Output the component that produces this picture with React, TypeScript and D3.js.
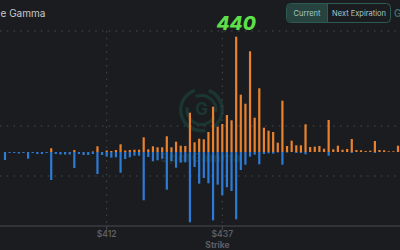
import React from "react";
import * as d3 from "d3";

const strikes = [
  390, 391, 392, 393, 394, 395, 396, 397, 398, 399,
  400, 401, 402, 403, 404, 405, 406, 407, 408, 409,
  410, 411, 412, 413, 414, 415, 416, 417, 418, 419,
  420, 421, 422, 423, 424, 425, 426, 427, 428, 429,
  430, 431, 432, 433, 434, 435, 436, 437, 438, 439,
  440, 441, 442, 443, 444, 445, 446, 447, 448, 449,
  450, 451, 452, 453, 454, 455, 456, 457, 458, 459,
  460, 461, 462, 463, 464, 465, 466, 467, 468, 469,
  470, 471, 472, 473, 474, 475,
];

const callGamma = [
  0, 0, 0, 0, 0, 0, 0, 0, 0, 0,
  3.7, 0, 0, 0, 0, 2, 0, 0, 0, 0.5,
  5.7, 0, 1.5, 1, 2, 7.7, 1.5, 2, 2.3, 2.3,
  14.7, 2.7, 5.7, 4.7, 4.7, 15.7, 4.7, 10.3, 6.3, 6,
  39.3, 9.7, 13.3, 12.7, 20, 45.3, 25.3, 28, 37, 31.7,
  115.3, 57.3, 48.3, 100.7, 34.3, 63.7, 24.3, 21.3, 20, 9.3,
  51.3, 6, 11.3, 6.7, 6.7, 27.7, 5, 5.3, 6, 3.3,
  32, 2.7, 6.3, 2.3, 3, 13, 2, 1.7, 1, 1.3,
  11, 2, 1.7, 0.7, 0.7, 6.3,
];

const putGamma = [
  -8, -1, -1, -1.5, -1, -6.7, -1, -2, -2, -1,
  -28, -2, -2.5, -2.5, -2.5, -16, -2, -3, -3, -2,
  -22, -3, -4.7, -5.7, -5.3, -20.7, -7, -5.3, -3.7, -3.7,
  -48.3, -5, -9.3, -8.3, -6.7, -37.7, -9, -15.7, -10.7, -10.3,
  -70.3, -15, -31.7, -26, -31.3, -68.3, -32.7, -43.3, -35.3, -39,
  -67.3, -18, -12.7, -4.7, -2.7, -12.3, -2, -1.3, -1.7, -0.5,
  -12.7, -0.5, 0, -1, -1, -2.3, 0, 0, 0, 0,
  -3.7, 0, 0, 0, 0, -1, 0, 0, 0, 0,
  -1, 0, 0, 0, 0, 0,
];

const xTickValues = [412, 437];
const yGridValues = [121, 26, -24];
const highlightStrike = 440;
const titleText = "e Gamma";
const buttonLabels = ["Current", "Next Expiration"];

const W = 400;
const H = 250;

export default function App() {
  const x = d3.scaleLinear().domain([412, 437]).range([106.7, 222.3]);
  const y = d3.scaleLinear().domain([-75, 122]).range([227, 30]);
  const barW = 2.2;
  const bg = "#1b1c20";
  const gridColor = "#4a4b50";
  const orange = "#e8822f";
  const blue = "#2e7bd6";

  const logoCx = 201.5;
  const logoCy = 110;
  const arc = d3.arc();
  const logoArcs = [
    { inner: 19, outer: 22.5, start: 0.35, end: 2.6 },
    { inner: 19, outer: 22.5, start: 2.95, end: 5.95 },
    { inner: 13, outer: 16, start: -0.4, end: 1.7 },
    { inner: 13, outer: 16, start: 2.1, end: 4.9 },
  ];

  return (
    <div style={{ position: "fixed", left: 0, top: 0, width: W, height: H }}>
      <svg width={W} height={H} style={{ display: "block", fontFamily: "Inter, 'Noto Sans', sans-serif" }}>
        <rect x={0} y={0} width={W} height={H} fill={bg} />

        {/* watermark */}
        <g transform={`translate(${logoCx},${logoCy})`} fill="#1b3533">
          {logoArcs.map((a, i) => (
            <path
              key={i}
              d={arc({ innerRadius: a.inner, outerRadius: a.outer, startAngle: a.start, endAngle: a.end }) as string}
            />
          ))}
          <text x={0} y={5} textAnchor="middle" fontSize={17} fontWeight={700} fill="#1b3533">G</text>
        </g>
        <text x={201} y={162} textAnchor="middle" fontSize={12} fontWeight={700} fill="#1f3533" letterSpacing={1}>
          SpotGamma
        </text>

        {/* grid */}
        {yGridValues.map((v) => (
          <line key={v} x1={0} x2={W} y1={y(v)} y2={y(v)} stroke={gridColor} strokeWidth={1} strokeDasharray="1.5 5.3" />
        ))}
        {xTickValues.map((v) => (
          <line key={v} x1={x(v)} x2={x(v)} y1={y(121)} y2={226} stroke={gridColor} strokeWidth={1} strokeDasharray="1.5 5.3" />
        ))}

        {/* bars */}
        {strikes.map((s, i) =>
          callGamma[i] > 0 ? (
            <rect key={"c" + s} x={x(s) - barW / 2} y={y(callGamma[i])} width={barW} height={y(0) - y(callGamma[i])} fill={orange} />
          ) : null
        )}
        {strikes.map((s, i) =>
          putGamma[i] < 0 ? (
            <rect key={"p" + s} x={x(s) - barW / 2} y={y(0)} width={barW} height={y(putGamma[i]) - y(0)} fill={blue} />
          ) : null
        )}

        {/* x axis */}
        <line x1={0} x2={W} y1={226} y2={226} stroke="#3a3b40" strokeWidth={1.5} />
        {xTickValues.map((v) => (
          <g key={v}>
            <line x1={x(v)} x2={x(v)} y1={226} y2={230} stroke="#4a4b50" strokeWidth={1} />
            <text x={x(v)} y={237} textAnchor="middle" fontSize={8.5} fontWeight={600} fill="#5e5f64">
              {"$" + v}
            </text>
          </g>
        ))}
        <text x={217.5} y={248} textAnchor="middle" fontSize={8.5} fontWeight={700} fill="#5e5f64">Strike</text>

        {/* title */}
        <text x={0.5} y={16.5} fontSize={10} fill="#c8c9cc">{titleText}</text>

        {/* highlight label */}
        <text
          x={x(highlightStrike)}
          y={30}
          textAnchor="middle"
          fontSize={19}
          fontWeight={800}
          fontStyle="italic"
          fill="#5fe04a"
        >
          {String(highlightStrike)}
        </text>

        {/* buttons */}
        <rect x={286.5} y={3.5} width={104} height={19} rx={4} fill="none" stroke="#2d5a55" strokeWidth={1} />
        <path d="M290.5,4 H327.5 V22 H290.5 A3.5,3.5 0 0 1 287,18.5 V7.5 A3.5,3.5 0 0 1 290.5,4 Z" fill="#26433f" />
        <line x1={327.5} x2={327.5} y1={4} y2={22} stroke="#2d5a55" strokeWidth={1} />
        <text x={307} y={16} textAnchor="middle" fontSize={7.5} fill="#a9c9c3">{buttonLabels[0]}</text>
        <text x={359} y={16} textAnchor="middle" fontSize={7.5} fill="#a9c9c3">{buttonLabels[1]}</text>
        <text x={394} y={17} fontSize={10} fontWeight={600} fill="#3f6b64">G</text>
      </svg>
    </div>
  );
}
